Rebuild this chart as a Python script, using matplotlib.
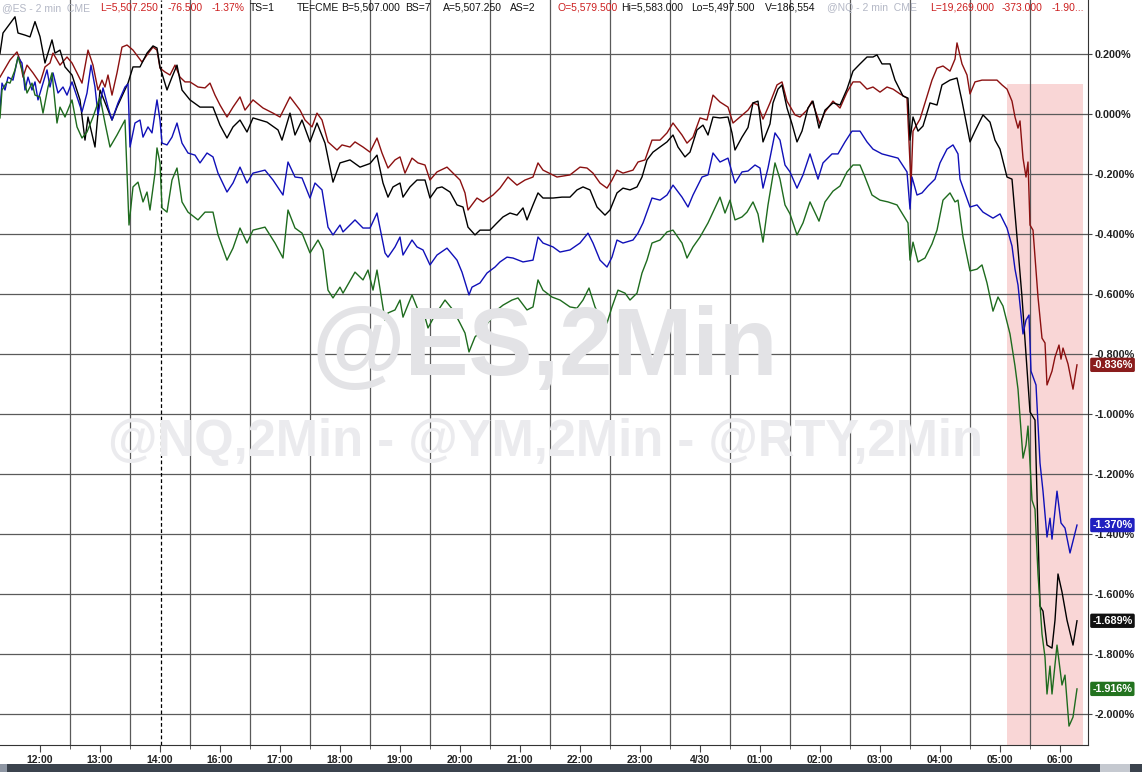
import matplotlib
matplotlib.use('Agg')
import matplotlib.pyplot as plt
from matplotlib.patches import Rectangle
from matplotlib.ticker import FixedLocator, FuncFormatter

plt.rcParams['font.family'] = ['Liberation Sans', 'DejaVu Sans']

# x = 2-min bar number on the session-compressed axis, y = % change
rty_x = [0, 3, 15, 18, 25, 30, 35, 40, 45, 52, 55, 60, 65, 72, 80, 85, 88, 95, 100, 112, 117, 128, 133, 140, 147,
         153, 157, 160, 167, 172, 177, 182, 190, 200, 213, 220, 227, 233, 240, 247, 253, 267, 278, 282, 290, 295,
         302, 310, 317, 325, 333, 340, 350, 360, 370, 377, 383, 388, 393, 400, 403, 410, 417, 425, 430, 437, 442,
         450, 457, 463, 468, 475, 480, 490, 497, 503, 510, 517, 523, 527, 533, 538, 543, 553, 562, 570, 577, 583,
         590, 597, 605, 610, 617, 623, 630, 637, 642, 647, 653, 660, 667, 673, 678, 685, 690, 697, 703, 708, 713,
         720, 728, 732, 735, 742, 748, 753, 758, 763, 770, 773, 778, 782, 787, 792, 797, 802, 808, 813, 819, 825,
         833, 840, 847, 853, 860, 867, 873, 877, 882, 890, 895, 903, 908, 910, 913, 918, 923, 930, 937, 942, 950,
         957, 962, 970, 975, 983, 990, 995, 1000, 1007, 1012, 1017, 1022, 1030, 1035, 1040, 1043, 1047, 1052, 1055,
         1058, 1062, 1067, 1073, 1077]
rty_y = [0.202, 0.27, 0.324, 0.27, 0.263, 0.257, 0.308, 0.258, 0.17, 0.247, 0.203, 0.213, 0.157, 0.13, 0.047,
         -0.087, -0.01, -0.11, 0.08, -0.02, 0.023, 0.103, 0.157, 0.157, 0.203, 0.227, 0.22, 0.157, 0.08, 0.123,
         0.163, 0.08, 0.047, 0.023, 0.023, -0.037, -0.08, -0.043, -0.02, -0.06, -0.013, -0.027, -0.053, -0.087,
         0.003, -0.07, -0.02, -0.093, -0.03, -0.097, -0.227, -0.163, -0.153, -0.177, -0.165, -0.137, -0.23, -0.277,
         -0.243, -0.23, -0.277, -0.243, -0.22, -0.22, -0.28, -0.247, -0.243, -0.26, -0.303, -0.31, -0.377, -0.403,
         -0.387, -0.387, -0.363, -0.343, -0.33, -0.337, -0.313, -0.353, -0.303, -0.263, -0.28, -0.28, -0.277,
         -0.277, -0.253, -0.243, -0.253, -0.31, -0.337, -0.32, -0.263, -0.247, -0.253, -0.243, -0.21, -0.153,
         -0.127, -0.11, -0.093, -0.07, -0.11, -0.143, -0.127, -0.053, -0.037, -0.07, -0.01, -0.013, -0.01, -0.063,
         -0.12, -0.077, -0.045, 0.037, 0.043, -0.093, -0.033, 0.037, 0.083, 0.097, 0.02, -0.033, -0.093, -0.057,
         0.02, 0.043, -0.047, 0.013, 0.037, 0.03, 0.083, 0.143, 0.167, 0.19, 0.19, 0.197, 0.167, 0.167, 0.113,
         0.06, 0.053, -0.087, -0.01, -0.057, -0.04, 0.037, 0.03, 0.097, 0.113, 0.12, 0.043, -0.093, -0.057, -0.003,
         -0.027, -0.087, -0.117, -0.21, -0.217, -0.41, -0.61, -0.993, -1.02, -1.64, -1.657, -1.77, -1.78, -1.687,
         -1.533, -1.593, -1.687, -1.77, -1.689]

ym_x = [0, 3, 10, 17, 20, 23, 27, 33, 40, 45, 50, 53, 60, 67, 72, 77, 82, 88, 93, 98, 102, 105, 108, 112, 117,
        122, 127, 133, 142, 147, 153, 157, 160, 165, 170, 175, 180, 185, 190, 198, 205, 210, 215, 220, 227, 233,
        240, 245, 253, 263, 273, 280, 290, 300, 305, 312, 317, 322, 328, 337, 342, 350, 355, 363, 370, 377, 382,
        388, 395, 400, 405, 412, 418, 425, 430, 437, 447, 453, 460, 465, 468, 477, 483, 493, 500, 508, 517, 525,
        533, 538, 543, 557, 570, 580, 587, 593, 600, 607, 612, 617, 623, 633, 638, 645, 652, 660, 667, 673, 682,
        687, 693, 700, 707, 713, 720, 728, 733, 740, 748, 753, 758, 763, 770, 777, 782, 787, 795, 800, 807, 812,
        820, 825, 833, 840, 847, 853, 860, 867, 873, 880, 887, 893, 900, 907, 911, 913, 920, 925, 932, 937, 943,
        950, 955, 957, 962, 967, 970, 975, 982, 990, 997, 1002, 1007, 1012, 1015, 1018, 1020, 1023, 1026, 1028,
        1030, 1033, 1038, 1042, 1045, 1047, 1052, 1055, 1059, 1061, 1063, 1068, 1073, 1077]
ym_y = [0.123, 0.14, 0.18, 0.207, 0.18, 0.123, 0.163, 0.137, 0.103, 0.157, 0.17, 0.203, 0.163, 0.19, 0.17, 0.137,
        0.103, 0.213, 0.163, 0.08, 0.113, 0.09, 0.13, 0.063, 0.137, 0.223, 0.23, 0.213, 0.173, 0.197, 0.223, 0.213,
        0.153, 0.14, 0.13, 0.163, 0.123, 0.107, 0.107, 0.09, 0.087, 0.103, 0.063, 0.03, -0.01, 0.023, 0.057, 0.013,
        0.047, 0.02, 0.003, -0.01, 0.057, 0.013, -0.02, -0.043, 0.003, -0.02, -0.093, -0.12, -0.103, -0.11, -0.093,
        -0.11, -0.127, -0.08, -0.13, -0.18, -0.153, -0.143, -0.197, -0.147, -0.163, -0.17, -0.22, -0.193, -0.177,
        -0.197, -0.22, -0.263, -0.32, -0.28, -0.293, -0.27, -0.247, -0.21, -0.237, -0.22, -0.21, -0.163, -0.187,
        -0.21, -0.203, -0.177, -0.18, -0.197, -0.23, -0.247, -0.22, -0.187, -0.197, -0.187, -0.16, -0.153, -0.087,
        -0.087, -0.063, -0.03, -0.07, -0.097, -0.077, -0.013, -0.02, 0.063, 0.04, 0.023, -0.03, -0.01, 0.013, 0.037,
        0.03, -0.017, 0.037, 0.097, 0.107, 0.043, -0.003, -0.01, 0.013, 0.043, -0.033, 0.007, 0.043, 0.02, 0.073,
        0.107, 0.107, 0.083, 0.09, 0.073, 0.09, 0.083, 0.067, 0.053, -0.237, -0.057, -0.017, 0.037, 0.113, 0.153,
        0.16, 0.143, 0.183, 0.237, 0.167, 0.13, 0.067, 0.107, 0.113, 0.113, 0.113, 0.097, 0.083, 0.043, -0.01,
        -0.047, -0.023, -0.147, -0.21, -0.16, -0.37, -0.387, -0.61, -0.747, -0.763, -0.903, -0.857, -0.81, -0.77,
        -0.817, -0.78, -0.833, -0.917, -0.836]

es_x = [0, 2, 5, 8, 13, 18, 22, 25, 28, 32, 35, 38, 43, 47, 50, 53, 58, 63, 67, 72, 77, 82, 87, 91, 95, 98, 103,
        108, 112, 118, 125, 128, 130, 135, 140, 143, 148, 152, 157, 160, 162, 167, 172, 177, 182, 188, 195, 200,
        207, 213, 218, 227, 233, 240, 247, 253, 265, 273, 283, 288, 295, 302, 310, 315, 322, 328, 333, 340, 343,
        355, 363, 370, 377, 385, 388, 395, 400, 403, 412, 417, 423, 430, 437, 447, 457, 462, 469, 472, 480, 487,
        495, 500, 507, 513, 523, 533, 538, 543, 553, 560, 570, 580, 588, 593, 600, 607, 612, 617, 623, 633, 638,
        643, 652, 660, 667, 673, 682, 688, 693, 702, 708, 713, 720, 728, 735, 742, 748, 755, 760, 763, 768, 775,
        780, 785, 790, 797, 803, 810, 818, 823, 832, 838, 845, 852, 860, 867, 873, 882, 890, 898, 907, 910, 912,
        917, 922, 928, 935, 940, 947, 953, 958, 960, 970, 977, 983, 993, 1000, 1007, 1012, 1015, 1018, 1023, 1026,
        1029, 1031, 1036, 1040, 1043, 1047, 1050, 1052, 1057, 1061, 1065, 1070, 1073, 1077]
es_y = [0.013, 0.103, 0.08, 0.123, 0.113, 0.19, 0.17, 0.08, 0.123, 0.08, 0.107, 0.047, 0.103, 0.147, 0.09, 0.137,
        0.07, 0.09, 0.063, 0.107, 0.057, 0.007, 0.07, 0.163, 0.09, -0.003, 0.087, 0.023, -0.02, 0.037, 0.09, 0.1,
        -0.11, -0.03, -0.02, -0.077, -0.043, -0.063, 0.047, -0.02, -0.097, -0.103, -0.077, -0.03, -0.097, -0.13,
        -0.137, -0.163, -0.13, -0.143, -0.197, -0.26, -0.23, -0.177, -0.23, -0.197, -0.187, -0.22, -0.27, -0.16,
        -0.21, -0.213, -0.28, -0.23, -0.253, -0.377, -0.403, -0.37, -0.393, -0.353, -0.38, -0.38, -0.33, -0.463,
        -0.477, -0.443, -0.41, -0.47, -0.42, -0.443, -0.453, -0.503, -0.47, -0.447, -0.487, -0.527, -0.603, -0.577,
        -0.563, -0.53, -0.51, -0.493, -0.477, -0.48, -0.493, -0.487, -0.41, -0.43, -0.443, -0.46, -0.453, -0.43,
        -0.397, -0.43, -0.487, -0.51, -0.477, -0.42, -0.43, -0.42, -0.397, -0.363, -0.28, -0.287, -0.27, -0.237,
        -0.277, -0.31, -0.27, -0.21, -0.203, -0.13, -0.16, -0.147, -0.23, -0.193, -0.19, -0.17, -0.18, -0.247,
        -0.18, -0.063, -0.087, -0.17, -0.193, -0.247, -0.203, -0.133, -0.217, -0.163, -0.133, -0.133, -0.093,
        -0.057, -0.057, -0.093, -0.117, -0.133, -0.14, -0.147, -0.193, -0.317, -0.21, -0.27, -0.263, -0.24, -0.217,
        -0.163, -0.117, -0.103, -0.133, -0.217, -0.31, -0.303, -0.327, -0.347, -0.333, -0.38, -0.44, -0.517, -0.57,
        -0.733, -0.687, -0.67, -0.857, -0.903, -1.163, -1.257, -1.41, -1.347, -1.417, -1.257, -1.363, -1.38, -1.463,
        -1.423, -1.37]

nq_x = [0, 2, 7, 10, 15, 18, 23, 27, 32, 35, 40, 43, 48, 52, 57, 60, 65, 72, 77, 82, 87, 93, 100, 105, 110, 117,
        125, 129, 133, 138, 143, 147, 150, 155, 157, 160, 162, 167, 172, 177, 182, 188, 198, 205, 213, 218, 227,
        233, 240, 247, 253, 265, 275, 283, 288, 295, 302, 310, 318, 323, 328, 333, 340, 343, 355, 363, 368, 373,
        377, 385, 388, 395, 400, 403, 412, 418, 423, 428, 435, 445, 453, 460, 465, 469, 475, 482, 490, 497, 503,
        512, 518, 527, 533, 538, 543, 552, 560, 570, 577, 583, 589, 595, 600, 607, 612, 618, 625, 630, 637, 642,
        647, 652, 660, 667, 673, 682, 687, 693, 700, 708, 713, 720, 725, 730, 735, 742, 747, 753, 758, 763, 768,
        775, 780, 785, 790, 797, 803, 810, 819, 825, 833, 840, 847, 853, 860, 865, 872, 880, 888, 897, 905, 908,
        910, 913, 918, 925, 932, 937, 943, 950, 955, 958, 963, 970, 977, 982, 987, 993, 998, 1003, 1010, 1015,
        1018, 1023, 1026, 1028, 1032, 1035, 1038, 1042, 1045, 1047, 1050, 1052, 1057, 1062, 1065, 1069, 1073, 1077]
nq_y = [-0.013, 0.08, 0.107, 0.103, 0.147, 0.19, 0.137, 0.07, 0.103, 0.063, 0.057, 0.003, 0.09, 0.137, -0.03,
        0.023, -0.01, 0.047, -0.043, -0.08, -0.06, -0.01, 0.057, -0.03, -0.11, -0.07, -0.02, -0.37, -0.243, -0.227,
        -0.293, -0.26, -0.32, -0.197, -0.113, -0.163, -0.313, -0.327, -0.22, -0.18, -0.293, -0.327, -0.353, -0.327,
        -0.327, -0.403, -0.487, -0.447, -0.38, -0.43, -0.387, -0.377, -0.43, -0.48, -0.32, -0.38, -0.397, -0.463,
        -0.42, -0.453, -0.587, -0.613, -0.577, -0.597, -0.527, -0.553, -0.52, -0.587, -0.52, -0.687, -0.663,
        -0.653, -0.62, -0.677, -0.603, -0.653, -0.653, -0.713, -0.67, -0.62, -0.653, -0.697, -0.73, -0.793, -0.743,
        -0.72, -0.687, -0.653, -0.637, -0.62, -0.613, -0.653, -0.643, -0.553, -0.587, -0.61, -0.62, -0.643, -0.647,
        -0.62, -0.58, -0.643, -0.677, -0.697, -0.643, -0.587, -0.597, -0.62, -0.597, -0.53, -0.487, -0.43, -0.42,
        -0.393, -0.387, -0.43, -0.48, -0.443, -0.41, -0.363, -0.327, -0.277, -0.33, -0.287, -0.353, -0.343, -0.327,
        -0.293, -0.333, -0.427, -0.303, -0.163, -0.217, -0.303, -0.333, -0.403, -0.363, -0.293, -0.357, -0.293,
        -0.257, -0.24, -0.193, -0.17, -0.17, -0.21, -0.27, -0.287, -0.293, -0.303, -0.347, -0.363, -0.487, -0.427,
        -0.493, -0.48, -0.433, -0.387, -0.287, -0.263, -0.293, -0.287, -0.41, -0.523, -0.517, -0.503, -0.563,
        -0.657, -0.61, -0.64, -0.733, -0.84, -0.917, -1.147, -1.103, -1.04, -1.287, -1.317, -1.533, -1.733, -1.81,
        -1.933, -1.84, -1.933, -1.77, -1.903, -1.87, -2.04, -2.01, -1.916]

tick_bars = [40 + 60 * i for i in range(18)]
tick_labels = ['12:00', '13:00', '14:00', '16:00', '17:00', '18:00', '19:00', '20:00', '21:00', '22:00',
               '23:00', '4/30', '01:00', '02:00', '03:00', '04:00', '05:00', '06:00']
y_ticks = [0.2, 0.0, -0.2, -0.4, -0.6, -0.8, -1.0, -1.2, -1.4, -1.6, -1.8, -2.0]
session_break = 161
highlight = (1007, 1083, 0.1)  # bar start, bar end, top %

series = [
    (ym_x, ym_y, '#8b1010', '-0.836%'),
    (rty_x, rty_y, '#000000', '-1.689%'),
    (es_x, es_y, '#1010b8', '-1.370%'),
    (nq_x, nq_y, '#1e6b1e', '-1.916%'),
]
tag_colors = {'-0.836%': '#8a1c1c', '-1.689%': '#111111', '-1.370%': '#2020c0', '-1.916%': '#23731f'}

W, H = 1142, 772
fig = plt.figure(figsize=(W / 100, H / 100), dpi=100)
ax = fig.add_axes([0, 27 / H, 1088 / W, 745 / H])
ax.set_xlim(0, 1088)
ax.set_ylim(-2.103, 0.38)

# watermarks
fig.text(545 / W, 1 - 350 / H, '@ES,2Min', ha='center', va='center', fontsize=69, fontweight='bold',
         color='#e3e3e6', zorder=0)
fig.text(545 / W, 1 - 442 / H, '@NQ,2Min - @YM,2Min - @RTY,2Min', ha='center', va='center', fontsize=36.5,
         fontweight='bold', color='#ebebee', zorder=0)
ax.patch.set_alpha(0)

ax.add_patch(Rectangle((highlight[0], -2.103), highlight[1] - highlight[0], highlight[2] + 2.103,
                       facecolor='#f9d6d6', edgecolor='none', zorder=0.2))

# grid
ax.xaxis.set_minor_locator(FixedLocator([40 + 30 * i for i in range(35)]))
ax.grid(which='minor', axis='x', color='#5a5a5a', lw=0.9, zorder=0.5)
ax.grid(which='major', axis='y', color='#5a5a5a', lw=0.9, zorder=0.5)
ax.set_axisbelow(True)
ax.axvline(session_break, color='black', lw=0.9, ls=(0, (3, 2)), zorder=1)

for xs, ys, c, lab in series:
    ax.plot(xs, ys, color=c, lw=1.0, zorder=2)

ax.set_xticks(tick_bars)
ax.set_xticklabels(tick_labels, fontsize=7.5, fontweight='bold', color='#222222')
ax.tick_params(axis='x', which='major', length=5, pad=2, color='#444444')
ax.tick_params(axis='x', which='minor', length=3, color='#444444')

ax.yaxis.tick_right()
ax.set_yticks(y_ticks)
ax.yaxis.set_major_formatter(FuncFormatter(lambda v, p: '%.3f%%' % v))
ax.tick_params(axis='y', length=3, pad=2, labelsize=7.8, labelcolor='#222222', color='#444444')
for lbl in ax.get_yticklabels():
    lbl.set_fontweight('bold')

for s in ['top', 'left']:
    ax.spines[s].set_visible(False)
ax.spines['right'].set_color('#333333')
ax.spines['bottom'].set_color('#333333')

# last value tags
for xs, ys, c, lab in series:
    ax.annotate(lab, xy=(1.004, ys[-1]), xycoords=('axes fraction', 'data'), ha='left', va='center',
                fontsize=7.8, fontweight='bold', color='white', zorder=5, annotation_clip=False,
                bbox=dict(boxstyle='round,pad=0.2,rounding_size=0.15', fc=tag_colors[lab], ec='none'))

# header line
header = [
    (2, '@ES - 2 min  CME', '#b4b8c6'), (100, 'L=5,507.250', '#cc1f1f'), (168, '-76.500', '#cc1f1f'),
    (212, '-1.37%', '#cc1f1f'), (250, 'TS=1', '#111111'), (297, 'TE=CME', '#111111'),
    (341, 'B=5,507.000', '#111111'), (405, 'BS=7', '#111111'), (443, 'A=5,507.250', '#111111'),
    (510, 'AS=2', '#111111'), (557, 'O=5,579.500', '#cc1f1f'), (621, 'Hi=5,583.000', '#111111'),
    (691, 'Lo=5,497.500', '#111111'), (765, 'V=186,554', '#111111'), (827, '@NQ - 2 min  CME', '#b4b8c6'),
    (930, 'L=19,269.000', '#cc1f1f'), (1002, '-373.000', '#cc1f1f'), (1052, '-1.90...', '#cc1f1f'),
]
for hx, txt, col in header:
    fig.text(hx / W, 1 - 8 / H, txt, ha='left', va='center', fontsize=7.5, color=col)

# bottom scroll bar
fig.patches.append(Rectangle((0, 0), 1, 8 / H, transform=fig.transFigure, fc='#3b434d', ec='none'))
fig.patches.append(Rectangle((0, 0), 7 / W, 8 / H, transform=fig.transFigure, fc='#8e96a3', ec='none'))
fig.patches.append(Rectangle((1100 / W, 0), 30 / W, 8 / H, transform=fig.transFigure, fc='#c5c9d0', ec='none'))

fig.savefig('out.png', dpi=100)
